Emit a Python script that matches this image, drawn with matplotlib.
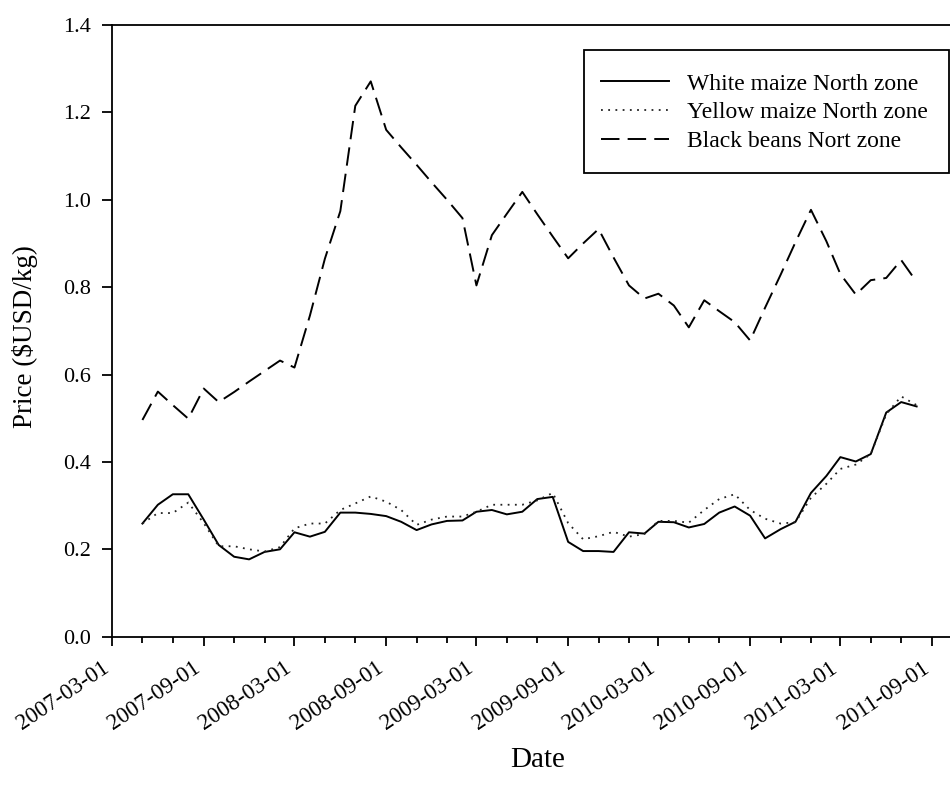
import matplotlib
matplotlib.use("Agg")
import matplotlib.pyplot as plt
import matplotlib.dates as mdates
import matplotlib.transforms as mtransforms
from matplotlib.patches import Rectangle
import numpy as np
import pandas as pd

dates = pd.date_range("2007-05-01", "2011-08-01", freq="MS")

white_maize = [0.259, 0.302, 0.326, 0.326, 0.268, 0.210, 0.183, 0.177, 0.194, 0.200,
               0.239, 0.229, 0.240, 0.284, 0.284, 0.281, 0.276, 0.263, 0.244, 0.257,
               0.265, 0.266, 0.286, 0.290, 0.280, 0.286, 0.315, 0.320, 0.217, 0.196,
               0.196, 0.194, 0.239, 0.236, 0.263, 0.262, 0.250, 0.258, 0.284, 0.298,
               0.277, 0.225, 0.246, 0.263, 0.329, 0.368, 0.411, 0.401, 0.418, 0.513,
               0.537, 0.527]

yellow_maize = [0.259, 0.283, 0.283, 0.307, 0.260, 0.207, 0.207, 0.200, 0.195, 0.205,
                0.248, 0.259, 0.259, 0.290, 0.305, 0.321, 0.309, 0.290, 0.256, 0.268,
                0.275, 0.275, 0.286, 0.302, 0.302, 0.302, 0.312, 0.329, 0.260, 0.223,
                0.230, 0.240, 0.229, 0.235, 0.265, 0.265, 0.261, 0.290, 0.315, 0.326,
                0.290, 0.270, 0.259, 0.262, 0.318, 0.350, 0.384, 0.394, 0.418, 0.509,
                0.550, 0.530]

black_beans = [0.496, 0.561, 0.530, 0.499, 0.568, 0.537, 0.560, 0.584, 0.608, 0.632,
               0.616, 0.735, 0.865, 0.974, 1.215, 1.271, 1.160, 1.120, 1.080, 1.040,
               1.000, 0.958, 0.804, 0.919, 0.968, 1.018, 0.967, 0.916, 0.866, 0.900,
               0.933, 0.868, 0.804, 0.774, 0.785, 0.758, 0.708, 0.770, 0.745, 0.720,
               0.678, 0.753, 0.828, 0.903, 0.977, 0.905, 0.830, 0.783, 0.816, 0.821,
               0.862, 0.812]

labels = ["White maize North zone", "Yellow maize North zone", "Black beans Nort zone"]

plt.rcParams["font.family"] = ["Liberation Serif", "DejaVu Serif"]

W, H = 950, 801
fig = plt.figure(figsize=(9.5, 8.01), dpi=100)
ax_left, ax_right, ax_top, ax_bottom = 112, 962.5, 25, 636.7
ax = fig.add_axes([ax_left / W, 1 - ax_bottom / H, (ax_right - ax_left) / W, (ax_bottom - ax_top) / H])

ax.plot(dates, white_maize, color="black", lw=1.4, label=labels[0])
ax.plot(dates, yellow_maize, color="#222222", lw=1.3, linestyle=(0, (1, 3.0)), label=labels[1])
ax.plot(dates, black_beans, color="black", lw=1.4, linestyle=(0, (9.5, 4.2)), label=labels[2])

ax.set_xlim(pd.Timestamp("2007-03-01"), pd.Timestamp("2011-11-01"))
ax.set_ylim(0, 1.4)
ax.set_yticks(np.arange(0, 1.41, 0.2))
ax.yaxis.set_major_formatter(matplotlib.ticker.FormatStrFormatter("%.1f"))

ax.xaxis.set_major_locator(mdates.MonthLocator(bymonth=[3, 9]))
ax.xaxis.set_minor_locator(mdates.MonthLocator(bymonth=[1, 5, 7, 11]))
ax.xaxis.set_major_formatter(mdates.DateFormatter("%Y-%m-%d"))

ax.tick_params(axis="y", which="major", direction="out", length=7, width=1.3, labelsize=16, pad=8)
ax.tick_params(axis="x", which="major", direction="out", length=6.5, width=1.3, labelsize=16.5, pad=8.5)
ax.tick_params(axis="x", which="minor", direction="out", length=4.5, width=1.3)
offset = mtransforms.ScaledTranslation(-0.11, 0, fig.dpi_scale_trans)
for lab in ax.get_xticklabels():
    lab.set_rotation(34)
    lab.set_ha("right")
    lab.set_rotation_mode("anchor")
    lab.set_transform(lab.get_transform() + offset)

for s in ax.spines.values():
    s.set_linewidth(1.3)

ax.set_xlabel("Date", fontsize=21)
ax.xaxis.label.set_va("center")
ax.xaxis.set_label_coords(0.5, (ax_bottom - 760) / (ax_bottom - ax_top))
ax.set_ylabel("Price ($USD/kg)", fontsize=19.5)
ax.yaxis.label.set_va("center")
ax.yaxis.label.set_ha("center")
ax.yaxis.set_label_coords((25 - ax_left) / (ax_right - ax_left), 0.49)

# legend frame drawn explicitly to match the box size
frame = Rectangle((584 / W, 1 - 173 / H), (949 - 584) / W, (173 - 50) / H,
                  transform=fig.transFigure, facecolor="white",
                  edgecolor="black", linewidth=1.3, zorder=5, clip_on=False)
ax.add_patch(frame)
frame.set_transform(fig.transFigure)
leg = ax.legend(loc="center left", bbox_to_anchor=(600.5 / W, 1 - 112.5 / H),
                bbox_transform=fig.transFigure, borderaxespad=0, borderpad=0,
                fontsize=17, frameon=False,
                handlelength=2.9, handletextpad=0.76, labelspacing=0.3)
leg.set_zorder(6)

fig.savefig("out.png", dpi=100)
